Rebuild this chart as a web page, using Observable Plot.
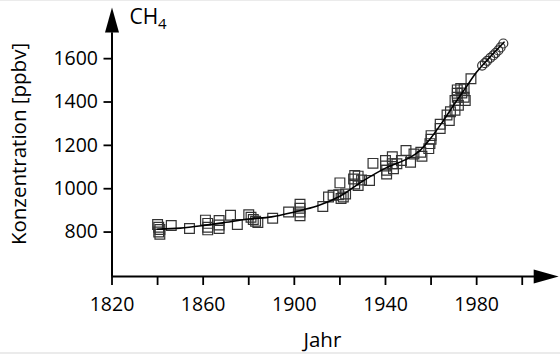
<!DOCTYPE html>
<html>
<head>
<meta charset="utf-8">
<script src="https://cdn.jsdelivr.net/npm/d3@7"></script>
<script src="https://cdn.jsdelivr.net/npm/@observablehq/plot@0.6"></script>
<style>
  html, body { margin: 0; padding: 0; background: #fff; }
  #chart { position: relative; width: 560px; height: 354px; }
  #chart svg { display: block; }
  #chart::after { content: ""; position: absolute; left: 0; top: 0; right: 0; bottom: 0;
    border-top: 1px solid #ebebeb; border-bottom: 2px solid #ebebeb; pointer-events: none; }
</style>
</head>
<body>
<div id="chart"></div>
<script>
// Ice-core / firn measurements (squares)
const squareYears = [
  1840, 1840.5, 1841, 1840.5, 1841, 1846, 1854,
  1861, 1862, 1862, 1862, 1867, 1867, 1867, 1872, 1875,
  1880, 1881, 1882, 1883, 1884, 1890.5, 1897.5,
  1902.5, 1902.5, 1902.5, 1902.5, 1912.5,
  1915, 1917, 1919.5, 1920, 1920.5, 1921.5, 1922.5,
  1926, 1926.5, 1926.5, 1928, 1928, 1929.5, 1933, 1934.5,
  1940, 1940, 1940.5, 1940.5, 1943, 1943, 1943.5, 1945, 1947, 1949,
  1951, 1952.5, 1955.5, 1956, 1959, 1959.5, 1960, 1960,
  1964, 1964, 1967, 1968, 1968.5, 1970.5, 1970.5,
  1971.5, 1971.5, 1971.5, 1972, 1973, 1973.5, 1974.5, 1974.5, 1975, 1977.5
];
const squareValues = [
  835, 822, 812, 800, 790, 830, 816,
  855, 840, 822, 810, 853, 833, 816, 878, 835,
  880, 868, 858, 850, 844, 864, 893,
  928, 910, 893, 875, 918,
  962, 970, 972, 1027, 955, 962, 976,
  1045, 1061, 1022, 1058, 1015, 1040, 1038, 1117,
  1130, 1105, 1085, 1068, 1147, 1115, 1092, 1115, 1130, 1176,
  1122, 1160, 1168, 1150, 1185, 1208, 1228, 1245,
  1297, 1278, 1340, 1315, 1355, 1362, 1407,
  1422, 1440, 1456, 1385, 1462, 1442, 1460, 1422, 1407, 1507
];
// Atmospheric measurements (circles)
const circleYears  = [1982.4, 1983.6, 1984.6, 1986, 1987.3, 1988.3, 1989.5, 1990.5, 1991.7];
const circleValues = [1568, 1579, 1590, 1604, 1615, 1626, 1638, 1652, 1670];
// Smoothed curve
const fitYears  = [1840, 1850, 1860, 1870, 1880, 1890, 1900, 1910, 1920, 1930, 1940, 1950, 1955, 1960, 1965, 1970, 1975, 1980, 1985, 1992];
const fitValues = [813, 818, 830, 845, 860, 870, 893, 920, 965, 1035, 1095, 1140, 1175, 1235, 1308, 1387, 1463, 1538, 1598, 1676];
// Axis ticks
const yTicks = [800, 1000, 1200, 1400, 1600];
const xTicks = [1820, 1840, 1860, 1880, 1900, 1920, 1940, 1960, 1980, 2000];
const xLabelled = [1820, 1860, 1900, 1940, 1980];

const squares = squareYears.map((t, i) => ({year: t, value: squareValues[i]}));
const circles = circleYears.map((t, i) => ({year: t, value: circleValues[i]}));
const fit = fitYears.map((t, i) => ({year: t, value: fitValues[i]}));

const xMin = 1820, xMax = 2016, yMin = 595, yMax = 1836;
const arrowLen = 25, arrowHalf = 7;
const upArrow = {draw(ctx) { ctx.moveTo(0, 0); ctx.lineTo(arrowHalf, arrowLen); ctx.lineTo(-arrowHalf, arrowLen); ctx.closePath(); }};
const rightArrow = {draw(ctx) { ctx.moveTo(0, 0); ctx.lineTo(-arrowLen, -arrowHalf); ctx.lineTo(-arrowLen, arrowHalf); ctx.closePath(); }};

const ink = "#000";
const symInk = "#333";

const plot = Plot.plot({
  width: 560,
  height: 354,
  marginLeft: 111.5,
  marginRight: 1.8,
  marginTop: 7,
  marginBottom: 78,
  style: {fontFamily: "'Open Sans', sans-serif", fontWeight: 500, background: "#fff", color: ink, overflow: "visible"},
  x: {domain: [xMin, xMax]},
  y: {domain: [yMin, yMax]},
  marks: [
    // axes lines
    Plot.ruleX([xMin], {y1: yMin, y2: 1720, stroke: ink, strokeWidth: 2}),
    Plot.ruleY([yMin], {x1: xMin, x2: 2005.4, stroke: ink, strokeWidth: 2}),
    Plot.dot([0], {x: () => xMin, y: () => yMax, symbol: upArrow, fill: ink, stroke: null}),
    Plot.dot([0], {x: () => xMax, y: () => yMin, symbol: rightArrow, fill: ink, stroke: null}),
    Plot.axisY({ticks: yTicks, tickSize: 8, tickPadding: 6, fontSize: 19.5, label: null, strokeWidth: 1.8, stroke: ink,
      tickFormat: d => String(d)}),
    Plot.axisX({ticks: xTicks, tickSize: 9, tickPadding: 12, fontSize: 19.5, label: null, strokeWidth: 1.8, stroke: ink,
      tickFormat: d => xLabelled.includes(d) ? String(d) : ""}),
    // data
    Plot.dot(squares, {x: "year", y: "value", symbol: "square", r: 5.5, stroke: symInk, strokeWidth: 1.2, fill: "none"}),
    Plot.dot(circles, {x: "year", y: "value", symbol: "circle", r: 4.5, stroke: symInk, strokeWidth: 1.2, fill: "none"}),
    Plot.line(fit, {x: "year", y: "value", curve: "catmull-rom", stroke: ink, strokeWidth: 1.6}),
    // labels
    Plot.text(["Jahr"], {frameAnchor: "bottom", dx: -13, dy: 70, lineAnchor: "bottom", fontSize: 20.5, fill: ink}),
    Plot.text(["Konzentration [ppbv]"], {frameAnchor: "left", rotate: -90, dx: -93, dy: 2, textAnchor: "middle", lineAnchor: "middle", fontSize: 20.5, fill: ink}),
    Plot.text(["CH"], {frameAnchor: "top-left", dx: 17.5, dy: 16.5, textAnchor: "start", lineAnchor: "bottom", fontSize: 21, fill: ink}),
    Plot.text(["4"], {frameAnchor: "top-left", dx: 46, dy: 21, textAnchor: "start", lineAnchor: "bottom", fontSize: 15, fill: ink})
  ]
});
document.getElementById("chart").appendChild(plot);
</script>
</body>
</html>
